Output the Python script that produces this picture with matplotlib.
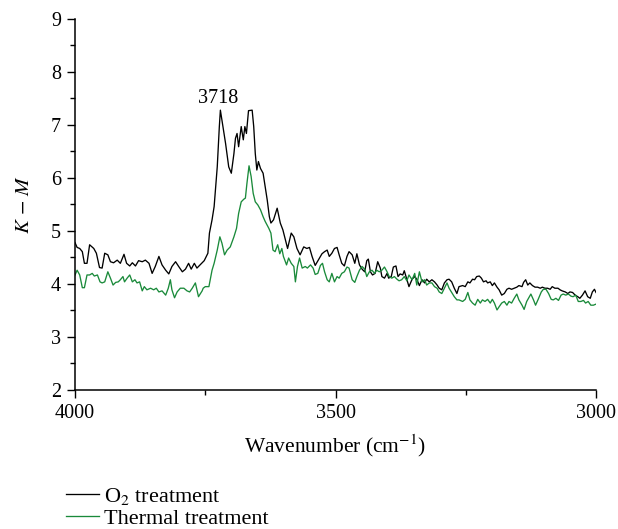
import matplotlib
matplotlib.use("Agg")
import matplotlib.pyplot as plt
from matplotlib.ticker import MultipleLocator

plt.rcParams['font.family'] = 'Liberation Serif'
plt.rcParams['mathtext.fontset'] = 'stix'

# O2 treatment (black) - wavenumber / K-M values
o2_wn = [4000, 3996, 3991, 3986, 3982, 3977, 3972, 3964, 3959, 3953, 3948, 3943, 3937, 3932,
         3926, 3919, 3913, 3906, 3901, 3895, 3890, 3884, 3878, 3871, 3865, 3858, 3852, 3846,
         3839, 3833, 3826, 3820, 3814, 3807, 3801, 3794, 3788, 3782, 3777, 3771, 3766, 3759,
         3752, 3745, 3742, 3737, 3733, 3727, 3723, 3721, 3718, 3711, 3705, 3700, 3695, 3692,
         3689, 3686, 3681, 3677, 3674, 3671, 3667, 3660, 3657, 3654, 3651, 3648, 3644, 3639,
         3635, 3631, 3627, 3624, 3619, 3612, 3606, 3601, 3596, 3592, 3585, 3580, 3574, 3568,
         3561, 3555, 3550, 3545, 3539, 3533, 3526, 3521, 3516, 3512, 3507, 3502, 3497, 3493,
         3488, 3483, 3478, 3474, 3468, 3463, 3459, 3454, 3449, 3444, 3440, 3437, 3433, 3429,
         3424, 3419, 3414, 3411, 3406, 3401, 3398, 3393, 3389, 3384, 3380, 3376, 3371, 3368,
         3363, 3359, 3353, 3348, 3344, 3339, 3334, 3329, 3325, 3320, 3315, 3310, 3305, 3301,
         3296, 3291, 3286, 3282, 3277, 3272, 3267, 3263, 3256, 3251, 3246, 3242, 3237, 3233,
         3229, 3224, 3220, 3216, 3211, 3208, 3203, 3199, 3195, 3190, 3186, 3181, 3176, 3171,
         3167, 3162, 3157, 3152, 3148, 3142, 3139, 3135, 3131, 3127, 3122, 3117, 3112, 3107,
         3103, 3098, 3093, 3088, 3084, 3079, 3073, 3069, 3065, 3059, 3054, 3050, 3045, 3040,
         3035, 3031, 3026, 3021, 3016, 3011, 3007, 3003, 3000]
o2_km = [4.78, 4.69, 4.67, 4.61, 4.39, 4.39, 4.74, 4.67, 4.58, 4.31, 4.30, 4.58, 4.55, 4.42,
         4.40, 4.45, 4.39, 4.56, 4.39, 4.34, 4.40, 4.34, 4.44, 4.42, 4.45, 4.39, 4.20, 4.33,
         4.52, 4.36, 4.26, 4.19, 4.33, 4.42, 4.33, 4.23, 4.28, 4.39, 4.28, 4.39, 4.30, 4.37,
         4.44, 4.58, 4.96, 5.21, 5.46, 6.21, 6.97, 7.28, 7.09, 6.65, 6.21, 6.09, 6.46, 6.75,
         6.84, 6.59, 6.97, 6.72, 6.97, 6.84, 7.27, 7.28, 6.97, 6.46, 6.15, 6.31, 6.18, 6.09,
         5.84, 5.58, 5.27, 5.15, 5.21, 5.43, 5.15, 5.02, 4.83, 4.67, 4.96, 4.89, 4.67, 4.55,
         4.70, 4.67, 4.69, 4.52, 4.35, 4.45, 4.57, 4.61, 4.64, 4.52, 4.58, 4.67, 4.69, 4.55,
         4.39, 4.34, 4.52, 4.61, 4.55, 4.39, 4.57, 4.36, 4.28, 4.23, 4.44, 4.47, 4.23, 4.17,
         4.20, 4.42, 4.30, 4.14, 4.11, 4.20, 4.11, 4.14, 4.32, 4.34, 4.14, 4.19, 4.17, 4.25,
         4.08, 3.95, 4.09, 4.14, 4.09, 3.97, 4.08, 4.02, 4.09, 4.04, 4.08, 4.04, 3.98, 3.92,
         3.89, 4.02, 4.08, 4.09, 4.04, 3.92, 3.82, 3.95, 3.97, 3.95, 4.04, 4.02, 4.09, 4.08,
         4.14, 4.15, 4.11, 4.04, 4.06, 4.02, 4.04, 3.97, 4.02, 3.94, 3.89, 3.79, 3.82, 3.90,
         3.92, 3.90, 3.92, 3.94, 3.97, 3.95, 4.03, 4.08, 3.98, 4.02, 3.97, 3.94, 3.94, 3.92,
         3.94, 3.92, 3.92, 3.90, 3.95, 3.92, 3.92, 3.89, 3.87, 3.85, 3.82, 3.85, 3.84, 3.79,
         3.76, 3.73, 3.79, 3.87, 3.76, 3.73, 3.85, 3.90, 3.84]

# Thermal treatment (green)
th_wn = [4000, 3996, 3991, 3986, 3982, 3977, 3972, 3967, 3963, 3957, 3952, 3948, 3943, 3937,
         3932, 3927, 3922, 3917, 3913, 3908, 3905, 3900, 3895, 3890, 3885, 3881, 3876, 3871,
         3867, 3862, 3855, 3849, 3844, 3839, 3833, 3826, 3821, 3817, 3814, 3809, 3804, 3798,
         3791, 3785, 3780, 3775, 3769, 3763, 3756, 3754, 3750, 3743, 3737, 3733, 3727, 3722,
         3718, 3713, 3708, 3702, 3695, 3690, 3686, 3681, 3676, 3673, 3670, 3666, 3662, 3658,
         3654, 3649, 3644, 3639, 3635, 3628, 3624, 3620, 3616, 3611, 3607, 3603, 3600, 3594,
         3590, 3585, 3580, 3577, 3573, 3569, 3564, 3558, 3554, 3548, 3543, 3539, 3534, 3529,
         3525, 3521, 3516, 3512, 3507, 3502, 3497, 3493, 3488, 3483, 3478, 3474, 3468, 3463,
         3459, 3454, 3449, 3444, 3440, 3435, 3430, 3425, 3421, 3416, 3411, 3406, 3401, 3397,
         3392, 3387, 3382, 3378, 3373, 3368, 3363, 3359, 3353, 3348, 3344, 3339, 3334, 3329,
         3325, 3320, 3315, 3310, 3305, 3301, 3296, 3291, 3286, 3282, 3277, 3272, 3267, 3263,
         3256, 3251, 3246, 3242, 3237, 3232, 3227, 3222, 3218, 3213, 3208, 3203, 3199, 3195,
         3190, 3186, 3181, 3176, 3171, 3167, 3162, 3157, 3152, 3148, 3142, 3138, 3133, 3128,
         3125, 3120, 3116, 3111, 3105, 3101, 3096, 3091, 3086, 3082, 3077, 3072, 3067, 3063,
         3058, 3053, 3048, 3044, 3039, 3034, 3029, 3024, 3020, 3015, 3010, 3005, 3000]
th_km = [4.17, 4.26, 4.17, 3.93, 3.93, 4.17, 4.17, 4.20, 4.15, 4.17, 4.04, 4.02, 4.04, 4.23,
         4.11, 3.98, 4.03, 4.04, 4.08, 4.14, 4.04, 4.11, 4.17, 4.04, 4.08, 4.02, 4.04, 3.87,
         3.95, 3.89, 3.92, 3.89, 3.92, 3.85, 3.87, 3.79, 3.92, 4.08, 3.89, 3.74, 3.85, 3.92,
         3.92, 3.87, 3.85, 3.92, 4.02, 3.76, 3.87, 3.92, 3.95, 3.95, 4.26, 4.39, 4.64, 4.89,
         4.77, 4.55, 4.64, 4.70, 4.89, 5.05, 5.33, 5.55, 5.60, 5.62, 5.90, 6.23, 6.03, 5.71,
         5.55, 5.49, 5.40, 5.27, 5.18, 5.05, 4.96, 4.64, 4.61, 4.74, 4.57, 4.67, 4.52, 4.36,
         4.49, 4.39, 4.33, 4.04, 4.33, 4.49, 4.30, 4.33, 4.30, 4.36, 4.30, 4.18, 4.20, 4.35,
         4.39, 4.23, 4.08, 4.04, 4.20, 4.04, 4.14, 4.11, 4.20, 4.23, 4.32, 4.30, 4.08, 4.03,
         4.14, 4.26, 4.33, 4.28, 4.14, 4.23, 4.26, 4.20, 4.26, 4.23, 4.26, 4.32, 4.23, 4.14,
         4.11, 4.14, 4.09, 4.06, 4.08, 4.14, 4.06, 4.17, 4.08, 4.20, 3.98, 4.23, 4.04, 4.08,
         3.98, 4.02, 4.02, 3.95, 3.92, 3.85, 3.82, 3.92, 4.02, 3.92, 3.84, 3.76, 3.70, 3.70,
         3.67, 3.71, 3.84, 3.70, 3.64, 3.60, 3.71, 3.64, 3.70, 3.67, 3.71, 3.64, 3.71, 3.64,
         3.51, 3.57, 3.64, 3.67, 3.60, 3.67, 3.64, 3.73, 3.81, 3.70, 3.60, 3.52, 3.67, 3.76,
         3.81, 3.70, 3.60, 3.71, 3.85, 3.90, 3.90, 3.82, 3.71, 3.70, 3.73, 3.69, 3.79, 3.81,
         3.79, 3.81, 3.77, 3.76, 3.79, 3.67, 3.67, 3.69, 3.64, 3.67, 3.60, 3.60, 3.62]

labels = ['O$_2$ treatment', 'Thermal treatment']
peak_label = '3718'

fig = plt.figure(figsize=(6.18, 5.29), dpi=100)
ax = fig.add_axes([0.1214, 0.2628, 0.8430, 0.7013])

ax.plot(o2_wn, o2_km, color='black', lw=0.95, label=labels[0])
ax.plot(th_wn, th_km, color='#1a8a3a', lw=0.95, label=labels[1])

ax.set_xlim(4000, 3000)
ax.set_ylim(2, 9)
ax.xaxis.set_major_locator(MultipleLocator(500))
ax.xaxis.set_minor_locator(MultipleLocator(250))
ax.yaxis.set_major_locator(MultipleLocator(1))
ax.yaxis.set_minor_locator(MultipleLocator(0.5))

for s in ['top', 'right']:
    ax.spines[s].set_visible(False)
ax.spines['left'].set_linewidth(1.1)
ax.spines['bottom'].set_linewidth(1.1)
ax.tick_params(which='major', direction='out', length=6, width=1.0, labelsize=14.5, pad=4)
ax.tick_params(which='minor', direction='out', length=3.5, width=1.0)

ax.set_xlabel('Wavenumber (cm$^{-1}$)', fontsize=15.5, labelpad=7)
ax.set_ylabel('$K$ $-$ $M$', fontsize=15, labelpad=12)

ax.text(3725, 7.5, peak_label, ha='center', va='center', fontsize=14.5)

fig.legend(loc='upper left', bbox_to_anchor=(0.107, 0.0822), frameon=False,
           fontsize=16, handlelength=1.5, handletextpad=0.2, labelspacing=0.08,
           borderpad=0, borderaxespad=0)

fig.savefig('out.png', dpi=100)
